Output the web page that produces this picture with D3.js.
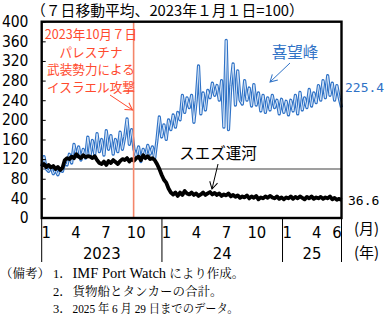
<!DOCTYPE html>
<html><head><meta charset="utf-8">
<script src="https://cdn.jsdelivr.net/npm/d3@7"></script>
<style>body{margin:0;background:#fff}svg{display:block}</style>
</head><body><svg id="c" width="385" height="323"></svg>
<script>
// ---- data (weekly readings of the 7-day moving average, 2023-01-01 = 100) ----
const seriesStart = "2023-01-01";
const seriesStepDays = 7;
const capeValues = [105,125,100,95,104,90,98,88,100,95,112,108,130,112,150,125,145,118,140,122,
165,128,158,130,172,135,160,128,178,140,168,130,160,135,175,140,165,202,150,180,
140,125,145,115,140,125,148,130,145,122,160,206,165,190,160,200,180,210,185,215,
200,250,215,245,225,250,195,240,310,212,255,220,260,245,275,250,270,240,280,185,
362,180,270,314,230,300,240,232,280,240,265,228,272,230,255,218,250,215,245,220,
250,225,240,212,242,215,238,210,240,218,250,212,256,220,245,225,262,228,255,235,
270,240,280,245,290,250,275,240,270,245,225.4];
const suezValues = [105,110,104,108,103,106,100,104,98,102,118,122,120,125,122,130,125,122,128,124,
126,125,122,126,118,112,110,115,108,116,112,118,114,110,116,120,118,122,115,120,
117,122,125,118,128,122,126,120,122,118,110,100,88,78,72,60,52,48,52,45,
52,47,55,50,48,52,47,50,45,48,52,47,50,53,48,51,47,50,45,48,
46,50,44,47,43,46,41,44,42,46,40,44,41,45,38,42,40,44,41,45,
42,40,44,39,42,38,42,40,44,39,43,40,44,41,38,43,40,44,39,42,
40,43,39,42,40,44,38,41,37,39,36.6];
const capeName = "喜望峰";
const suezName = "スエズ運河";
const capeLast = "225.4";
const suezLast = "36.6";
const yTicks = [0,40,80,120,160,200,240,280,320,360,400];
const monthDates = ["2023-01-15","2023-04-15","2023-07-15","2023-10-15","2024-01-15","2024-04-15","2024-07-15","2024-10-15","2025-01-15","2025-04-15","2025-06-15"];
const monthLabels = ["1","4","7","10","1","4","7","10","1","4","6"];
const yearStarts = ["2023-01-01","2024-01-01","2025-01-01"];
const yearEnds = ["2024-01-01","2025-01-01","2025-06-29"];
const yearLabels = ["2023","24","25"];
const eventDate = "2023-10-07";
const eventText = ["2023年10月７日","パレスチナ","武装勢力による","イスラエル攻撃"];
const titleText = "（７日移動平均、2023年１月１日=100）";
const noteHead = "（備考）";
const noteNums = ["1．","2．","3．"];
const note1Latin = "IMF Port Watch";
const note1Rest = " により作成。";
const note2 = "貨物船とタンカーの合計。";
const note3 = "2025 年 6 月 29 日までのデータ。";

// ---- drawing ----
const parse = d3.utcParse("%Y-%m-%d");
const t0 = parse(seriesStart);
const dates = capeValues.map((_, i) => d3.utcDay.offset(t0, i * seriesStepDays));
const svg = d3.select("#c");
const L = 41.7, R = 341.5, T = 21.7, B = 218;
const x = d3.scaleUtc().domain([parse("2023-01-01"), parse("2025-06-29")]).range([L, R]);
const y = d3.scaleLinear().domain([0, 400]).range([B, T]);

const cjk = "'Noto Sans CJK JP', sans-serif";
const narrow = "'Liberation Sans Narrow','DejaVu Sans Condensed','Liberation Sans',Arial,sans-serif";
const blue = "#2f72c6", red = "#ff4a2e";

// title
svg.append("text").attr("x", 31).attr("y", 16).attr("font-family", cjk).attr("font-size", 14.8)
  .attr("fill", "#000").text(titleText);

// reference line at 100
svg.append("line").attr("x1", L).attr("x2", R).attr("y1", y(100)).attr("y2", y(100))
  .attr("stroke", "#7f7f7f").attr("stroke-width", 1.5);

// cape series
const capeData = capeValues.map((v, i) => ({d: dates[i], v}));
const suezData = suezValues.map((v, i) => ({d: dates[i], v}));
const lineC = d3.line().x(p => x(p.d)).y(p => y(p.v));
svg.append("path").datum(capeData).attr("d", lineC).attr("fill", "none")
  .attr("stroke", blue).attr("stroke-width", 3.2).attr("stroke-linejoin", "round");
svg.append("path").datum(capeData).attr("d", lineC).attr("fill", "none")
  .attr("stroke", "#d6e5f7").attr("stroke-width", 1).attr("stroke-linejoin", "round");

// suez series
const lineS = d3.line().x(p => x(p.d)).y(p => y(p.v));
svg.append("path").datum(suezData).attr("d", lineS).attr("fill", "none")
  .attr("stroke", "#000").attr("stroke-width", 3.8).attr("stroke-linejoin", "round");

// event line
const ex = x(parse(eventDate));
svg.append("line").attr("x1", ex).attr("x2", ex).attr("y1", T).attr("y2", B)
  .attr("stroke", "#f4866a").attr("stroke-width", 1.6);

// frame
svg.append("rect").attr("x", L).attr("y", T).attr("width", R - L).attr("height", B - T)
  .attr("fill", "none").attr("stroke", "#000").attr("stroke-width", 2.4);

// y axis
const yAxis = svg.append("g").attr("transform", `translate(${L},0)`)
  .call(d3.axisRight(y).tickValues(yTicks).tickSize(4).tickFormat(""));
yAxis.select(".domain").remove();
yAxis.selectAll("line").attr("stroke", "#000").attr("stroke-width", 1);
svg.append("g").selectAll("text").data(yTicks).join("text")
  .attr("x", 28.5).attr("y", d => y(d) + 5.3).attr("text-anchor", "end")
  .attr("font-family", narrow).attr("font-size", 15.5).text(d => d);

// category axis box lines
const sepDates = ["2023-01-01","2024-01-01","2025-01-01","2025-06-29"];
svg.append("g").selectAll("line").data(sepDates).join("line")
  .attr("x1", d => x(parse(d))).attr("x2", d => x(parse(d)))
  .attr("y1", B).attr("y2", 262).attr("stroke", "#000").attr("stroke-width", 1);
svg.append("g").selectAll("text").data(monthDates).join("text")
  .attr("x", d => x(parse(d))).attr("y", 238).attr("text-anchor", "middle")
  .attr("font-family", narrow).attr("font-size", 16.5).text((d, i) => monthLabels[i]);
svg.append("g").selectAll("text").data(yearLabels).join("text")
  .attr("x", (d, i) => (x(parse(yearStarts[i])) + x(parse(yearEnds[i]))) / 2).attr("y", 259)
  .attr("text-anchor", "middle").attr("font-family", narrow).attr("font-size", 16.5).text(d => d);
svg.append("text").attr("x", 354).attr("y", 234).attr("font-family", cjk).attr("font-size", 15).text("(月)");
svg.append("text").attr("x", 354).attr("y", 258).attr("font-family", cjk).attr("font-size", 15).text("(年)");

// end value labels
const mono = "'DejaVu Sans Mono', monospace";
svg.append("text").attr("x", 345).attr("y", 92).attr("font-family", mono).attr("font-size", 13)
  .attr("fill", blue).text(capeLast);
svg.append("text").attr("x", 348).attr("y", 205).attr("font-family", mono).attr("font-size", 13)
  .attr("fill", "#000").text(suezLast);

// arrow markers
function marker(id, color) {
  svg.append("defs").append("marker").attr("id", id).attr("viewBox", "-8 -5 10 10")
    .attr("markerWidth", 10).attr("markerHeight", 10).attr("markerUnits", "userSpaceOnUse")
    .attr("orient", "auto").append("path").attr("d", "M-7,-4 L0,0 L-7,4")
    .attr("fill", "none").attr("stroke", color).attr("stroke-width", 1);
}
marker("ar", red); marker("ab", blue); marker("ak", "#000");

// event annotation
svg.append("g").selectAll("text").data(eventText).join("text")
  .attr("x", 91).attr("y", (d, i) => 39 + i * 17.5).attr("text-anchor", "middle")
  .attr("font-family", cjk).attr("font-size", 12.6).attr("fill", red).text(d => d);
svg.append("line").attr("x1", 110).attr("y1", 95).attr("x2", 132.5).attr("y2", 110)
  .attr("stroke", red).attr("stroke-width", 1).attr("marker-end", "url(#ar)");

// series labels
svg.append("text").attr("x", 295).attr("y", 58).attr("text-anchor", "middle")
  .attr("font-family", cjk).attr("font-size", 15.5).attr("fill", blue).text(capeName);
svg.append("line").attr("x1", 290).attr("y1", 63).attr("x2", 270).attr("y2", 82)
  .attr("stroke", blue).attr("stroke-width", 1).attr("marker-end", "url(#ab)");
svg.append("text").attr("x", 218).attr("y", 159).attr("text-anchor", "middle")
  .attr("font-family", cjk).attr("font-size", 15.5).attr("fill", "#000").text(suezName);
svg.append("line").attr("x1", 218).attr("y1", 164).attr("x2", 212).attr("y2", 189)
  .attr("stroke", "#000").attr("stroke-width", 1).attr("marker-end", "url(#ak)");

// notes
const serif = "'Liberation Serif','Noto Serif CJK JP','Noto Sans CJK JP',serif";
svg.append("text").attr("x", 0).attr("y", 278).attr("font-family", serif).attr("font-size", 12.5).text(noteHead);
noteNums.forEach((n, i) => {
  svg.append("text").attr("x", 53).attr("y", 278 + i * 17.5).attr("font-family", serif)
    .attr("font-size", 12.5).text(n);
});
const n1 = svg.append("text").attr("x", 72.5).attr("y", 278).attr("font-family", serif);
n1.append("tspan").attr("font-size", 14.5).text(note1Latin);
n1.append("tspan").attr("font-size", 12.5).text(note1Rest);
svg.append("text").attr("x", 72.5).attr("y", 295.5).attr("font-family", serif).attr("font-size", 12.5).text(note2);
svg.append("text").attr("x", 72.5).attr("y", 313).attr("font-family", serif).attr("font-size", 12.5)
  .attr("textLength", 166).attr("lengthAdjust", "spacingAndGlyphs").text(note3);
</script></body></html>
